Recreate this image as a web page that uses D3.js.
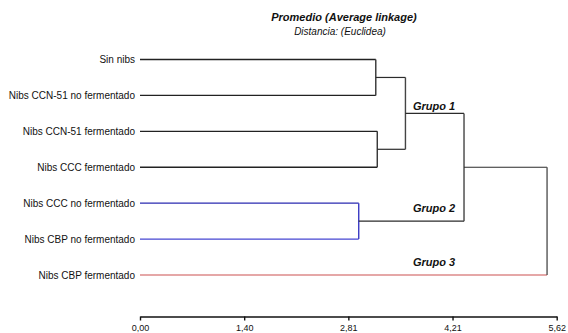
<!DOCTYPE html>
<html><head><meta charset="utf-8">
<script src="https://cdn.jsdelivr.net/npm/d3@7"></script>
<style>
html,body{margin:0;padding:0;background:#fff;}
svg{display:block;font-family:"Liberation Sans",Arial,sans-serif;}
</style></head>
<body><svg id="chart" width="568" height="333"></svg>
<script>
const leaves = ["Sin nibs","Nibs CCN-51 no fermentado","Nibs CCN-51 fermentado","Nibs CCC fermentado","Nibs CCC no fermentado","Nibs CBP no fermentado","Nibs CBP fermentado"];
// merges: [child A, child B, height]; new nodes numbered after the leaves
const mergeLeft  = [0,2,7,4,9,11];
const mergeRight = [1,3,8,5,10,6];
const mergeHeight = [3.18,3.20,3.58,2.95,4.37,5.49];
const leafColors = ["#222","#222","#222","#222","#2a2ab0","#4646d2","#dc8a8a"];
const bracketColors = ["#333","#333","#444","#3a3ac4","#444","#555"];
const tickValues = [0,1.405,2.81,4.215,5.62];
const tickLabels = ["0,00","1,40","2,81","4,21","5,62"];
const groupLabels = ["Grupo 1","Grupo 2","Grupo 3"];

const svg = d3.select("#chart");
const x = d3.scaleLinear().domain([0,5.62]).range([140,556.7]);
const y = d3.scalePoint().domain(d3.range(leaves.length)).range([59.5,275]);

// node positions
const nodes = leaves.map((name,i)=>({id:i,h:0,y:y(i),color:leafColors[i]}));
mergeHeight.forEach((h,k)=>{
  const a = nodes[mergeLeft[k]], b = nodes[mergeRight[k]];
  nodes.push({id:leaves.length+k,h:h,y:(a.y+b.y)/2,color:"#2b2b2b",a:a,b:b,bracket:bracketColors[k]});
});

const g = svg.append("g");
nodes.filter(n=>n.a).forEach(n=>{
  [n.a,n.b].forEach(c=>{
    g.append("line").attr("x1",x(c.h)).attr("x2",x(n.h)).attr("y1",c.y).attr("y2",c.y)
      .attr("stroke",c.color).attr("stroke-width",c.id<leaves.length?1.3:1.2);
  });
  g.append("line").attr("x1",x(n.h)).attr("x2",x(n.h)).attr("y1",n.a.y).attr("y2",n.b.y)
    .attr("stroke",n.bracket).attr("stroke-width",1.4);
});

// leaf labels
svg.append("g").selectAll("text").data(leaves).join("text")
  .attr("x",135).attr("y",(d,i)=>y(i)).attr("dy","0.35em")
  .attr("text-anchor","end").attr("font-size","10px").attr("fill","#111")
  .text(d=>d);

// group labels
const groupY = [110,212,266];
svg.append("g").selectAll("text").data(groupLabels).join("text")
  .attr("x",413).attr("y",(d,i)=>groupY[i])
  .attr("font-size","11px").attr("font-weight","bold").attr("font-style","italic").attr("fill","#111")
  .text(d=>d);

// title
svg.append("text").attr("x",344).attr("y",21).attr("text-anchor","middle")
  .attr("font-size","11px").attr("font-weight","bold").attr("font-style","italic").attr("fill","#111")
  .text("Promedio (Average linkage)");
svg.append("text").attr("x",340).attr("y",35).attr("text-anchor","middle")
  .attr("font-size","10px").attr("font-style","italic").attr("fill","#111")
  .text("Distancia: (Euclidea)");

// axis
const axis = d3.axisBottom(x).tickValues(tickValues).tickFormat((d,i)=>tickLabels[i]).tickSize(4).tickSizeOuter(0);
const ax = svg.append("g").attr("transform","translate(0,316.5)").call(axis);
ax.select(".domain").attr("stroke","#111").attr("stroke-width",1.4);
ax.selectAll(".tick line").attr("stroke","#111").attr("stroke-width",1.4);
ax.selectAll(".tick text").attr("font-size","9px").attr("fill","#111").attr("y",8)
  .attr("font-family","'Liberation Sans',Arial,sans-serif");
</script></body></html>
